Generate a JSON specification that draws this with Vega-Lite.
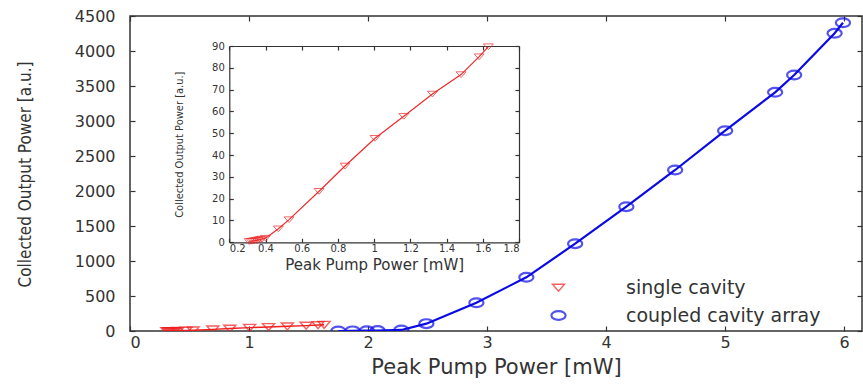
{
  "$schema": "https://vega.github.io/schema/vega-lite/v6.json",
  "width": 732,
  "height": 315,
  "autosize": {"type": "none"},
  "padding": {"left": 130, "top": 16, "right": 1, "bottom": 54},
  "background": "white",
  "config": {
    "view": {"stroke": "#333", "strokeWidth": 1.5},
    "axis": {
      "grid": false,
      "domain": false,
      "tickColor": "#333",
      "tickWidth": 1.2,
      "labelFont": "DejaVu Sans",
      "labelColor": "#333",
      "titleFont": "DejaVu Sans",
      "titleFontWeight": "normal",
      "titleColor": "#333",
      "domainColor": "#333"
    },
    "legend": {
      "title": null, "orient": "none", "legendX": 419, "legendY": 262,
      "symbolSize": 400, "labelOffset": 58, "labelFontSize": 19, "labelLimit": 0,
      "labelFont": "DejaVu Sans", "labelColor": "#333", "rowPadding": 8, "padding": 0
    }
  },
  "data": {
    "values": [
      {"series": "single cavity", "power": 0.31, "output": 0.4},
      {"series": "single cavity", "power": 0.32, "output": 0.5},
      {"series": "single cavity", "power": 0.33, "output": 0.6},
      {"series": "single cavity", "power": 0.34, "output": 0.8},
      {"series": "single cavity", "power": 0.35, "output": 0.9},
      {"series": "single cavity", "power": 0.36, "output": 1.1},
      {"series": "single cavity", "power": 0.37, "output": 1.3},
      {"series": "single cavity", "power": 0.38, "output": 1.5},
      {"series": "single cavity", "power": 0.40, "output": 1.9},
      {"series": "single cavity", "power": 0.471, "output": 6.2},
      {"series": "single cavity", "power": 0.530, "output": 10.4},
      {"series": "single cavity", "power": 0.696, "output": 23.4},
      {"series": "single cavity", "power": 0.839, "output": 35.0},
      {"series": "single cavity", "power": 1.005, "output": 47.7},
      {"series": "single cavity", "power": 1.164, "output": 57.8},
      {"series": "single cavity", "power": 1.322, "output": 68.0},
      {"series": "single cavity", "power": 1.480, "output": 76.9},
      {"series": "single cavity", "power": 1.580, "output": 85.1},
      {"series": "single cavity", "power": 1.631, "output": 89.7},
      {"series": "coupled cavity array", "power": 1.75, "output": 0},
      {"series": "coupled cavity array", "power": 1.87, "output": 2},
      {"series": "coupled cavity array", "power": 1.99, "output": 4},
      {"series": "coupled cavity array", "power": 2.08, "output": 6},
      {"series": "coupled cavity array", "power": 2.28, "output": 15},
      {"series": "coupled cavity array", "power": 2.49, "output": 105},
      {"series": "coupled cavity array", "power": 2.91, "output": 404},
      {"series": "coupled cavity array", "power": 3.33, "output": 767},
      {"series": "coupled cavity array", "power": 3.74, "output": 1247},
      {"series": "coupled cavity array", "power": 4.17, "output": 1776},
      {"series": "coupled cavity array", "power": 4.58, "output": 2300},
      {"series": "coupled cavity array", "power": 5.00, "output": 2862},
      {"series": "coupled cavity array", "power": 5.42, "output": 3410},
      {"series": "coupled cavity array", "power": 5.58, "output": 3657},
      {"series": "coupled cavity array", "power": 5.92, "output": 4253},
      {"series": "coupled cavity array", "power": 5.99, "output": 4404}
    ]
  },
  "layer": [
    {
      "layer": [
        {
          "mark": {"type": "line", "clip": true},
          "encoding": {
            "x": {
              "field": "power", "type": "quantitative",
              "scale": {"domain": [0, 6.15], "nice": false, "zero": false},
              "axis": {
                "orient": "bottom", "values": [0, 1, 2, 3, 4, 5, 6],
                "tickSize": -5, "labelFontSize": 16, "labelPadding": 8,
                "title": "Peak Pump Power [mW]", "titleFontSize": 21,
                "titleY": 36, "titleBaseline": "middle"
              }
            },
            "y": {
              "field": "output", "type": "quantitative",
              "scale": {"domain": [0, 4500], "nice": false},
              "axis": {
                "orient": "left", "values": [0, 500, 1000, 1500, 2000, 2500, 3000, 3500, 4000, 4500],
                "format": "d",
                "tickSize": -5, "labelFontSize": 16, "labelPadding": 20,
                "title": "Collected Output Power [a.u.]",
                "titleFont": "'DejaVu Sans Condensed', Roboto, sans-serif", "titleFontSize": 17,
                "titleX": -105, "titleY": 158, "titleAngle": -90,
                "titleBaseline": "middle", "titleAlign": "center"
              }
            },
            "color": {
              "field": "series", "type": "nominal",
              "scale": {"domain": ["single cavity", "coupled cavity array"], "range": ["#f21d1d", "#0a0ae6"]},
              "legend": {
                "title": null, "orient": "none", "legendX": 419, "legendY": 262,
                "symbolSize": 400, "labelOffset": 58, "labelFontSize": 19, "labelLimit": 0,
                "labelFont": "DejaVu Sans", "labelColor": "#333", "rowPadding": 8, "padding": 0
              }
            },
            "strokeWidth": {
              "field": "series", "type": "nominal",
              "scale": {"domain": ["single cavity", "coupled cavity array"], "range": [1.4, 2.2]},
              "legend": null
            }
          }
        },
        {
          "mark": {"type": "point", "filled": false, "clip": true},
          "encoding": {
            "x": {
              "field": "power", "type": "quantitative",
              "axis": {"orient": "top", "values": [0, 1, 2, 3, 4, 5, 6], "tickSize": -5, "labels": false, "title": null}
            },
            "y": {
              "field": "output", "type": "quantitative",
              "axis": {"orient": "right", "values": [0, 500, 1000, 1500, 2000, 2500, 3000, 3500, 4000, 4500], "tickSize": -5, "labels": false, "title": null}
            },
            "color": {
              "field": "series", "type": "nominal",
              "scale": {"domain": ["single cavity", "coupled cavity array"], "range": ["#f21d1d", "#0a0ae6"]}
            },
            "shape": {
              "field": "series", "type": "nominal",
              "scale": {"domain": ["single cavity", "coupled cavity array"], "range": ["M-1,-0.55L1,-0.55L0,0.6Z", "M1,0A1,0.62 0 1,0 -1,0A1,0.62 0 1,0 1,0"]}
            },
            "size": {
              "field": "series", "type": "nominal",
              "scale": {"domain": ["single cavity", "coupled cavity array"], "range": [144, 200]},
              "legend": null
            },
            "strokeWidth": {
              "field": "series", "type": "nominal",
              "scale": {"domain": ["single cavity", "coupled cavity array"], "range": [1.1, 2.2]},
              "legend": null
            }
          }
        }
      ],
      "resolve": {"axis": {"x": "independent", "y": "independent"}}
    },
    {
      "transform": [{"filter": {"field": "series", "equal": "single cavity"}}],
      "layer": [
        {
          "mark": {"type": "line", "color": "#ee2a2a", "strokeWidth": 1.2},
          "encoding": {
            "x": {
              "field": "power", "type": "quantitative",
              "scale": {"domain": [0.2, 1.8], "range": [99.3, 389], "nice": false, "zero": false},
              "axis": {
                "orient": "bottom", "offset": -88.7, "domain": true, "domainWidth": 1.2,
                "values": [0.2, 0.4, 0.6, 0.8, 1, 1.2, 1.4, 1.6, 1.8], "format": "~g",
                "tickSize": -4, "labelFontSize": 10, "labelPadding": 5,
                "title": "Peak Pump Power [mW]", "titleFontSize": 15,
                "titleY": 22, "titleBaseline": "middle"
              }
            },
            "y": {
              "field": "output", "type": "quantitative",
              "scale": {"domain": [0, 90], "range": [226.3, 30], "nice": false},
              "axis": {
                "orient": "left", "offset": -99.3, "domain": true, "domainWidth": 1.2,
                "values": [0, 10, 20, 30, 40, 50, 60, 70, 80, 90],
                "tickSize": -4, "labelFontSize": 10, "labelPadding": 9,
                "title": "Collected Output Power [a.u.]",
                "titleFont": "'DejaVu Sans Condensed', Roboto, sans-serif", "titleFontSize": 11,
                "titleX": -50, "titleAngle": -90, "titleBaseline": "middle", "titleAlign": "center"
              }
            }
          }
        },
        {
          "mark": {"type": "point", "filled": false, "color": "#ee2a2a", "strokeWidth": 1, "size": 100, "shape": "M-1,-0.55L1,-0.55L0,0.6Z"},
          "encoding": {
            "x": {
              "field": "power", "type": "quantitative",
              "axis": {"orient": "top", "offset": -30, "domain": true, "domainWidth": 1.2, "values": [0.2, 0.4, 0.6, 0.8, 1, 1.2, 1.4, 1.6, 1.8], "tickSize": -4, "labels": false, "title": null}
            },
            "y": {
              "field": "output", "type": "quantitative",
              "axis": {"orient": "right", "offset": -343, "domain": true, "domainWidth": 1.2, "values": [0, 10, 20, 30, 40, 50, 60, 70, 80, 90], "tickSize": -4, "labels": false, "title": null}
            }
          }
        }
      ],
      "resolve": {"axis": {"x": "independent", "y": "independent"}}
    }
  ],
  "resolve": {"scale": {"x": "independent", "y": "independent"}}
}
